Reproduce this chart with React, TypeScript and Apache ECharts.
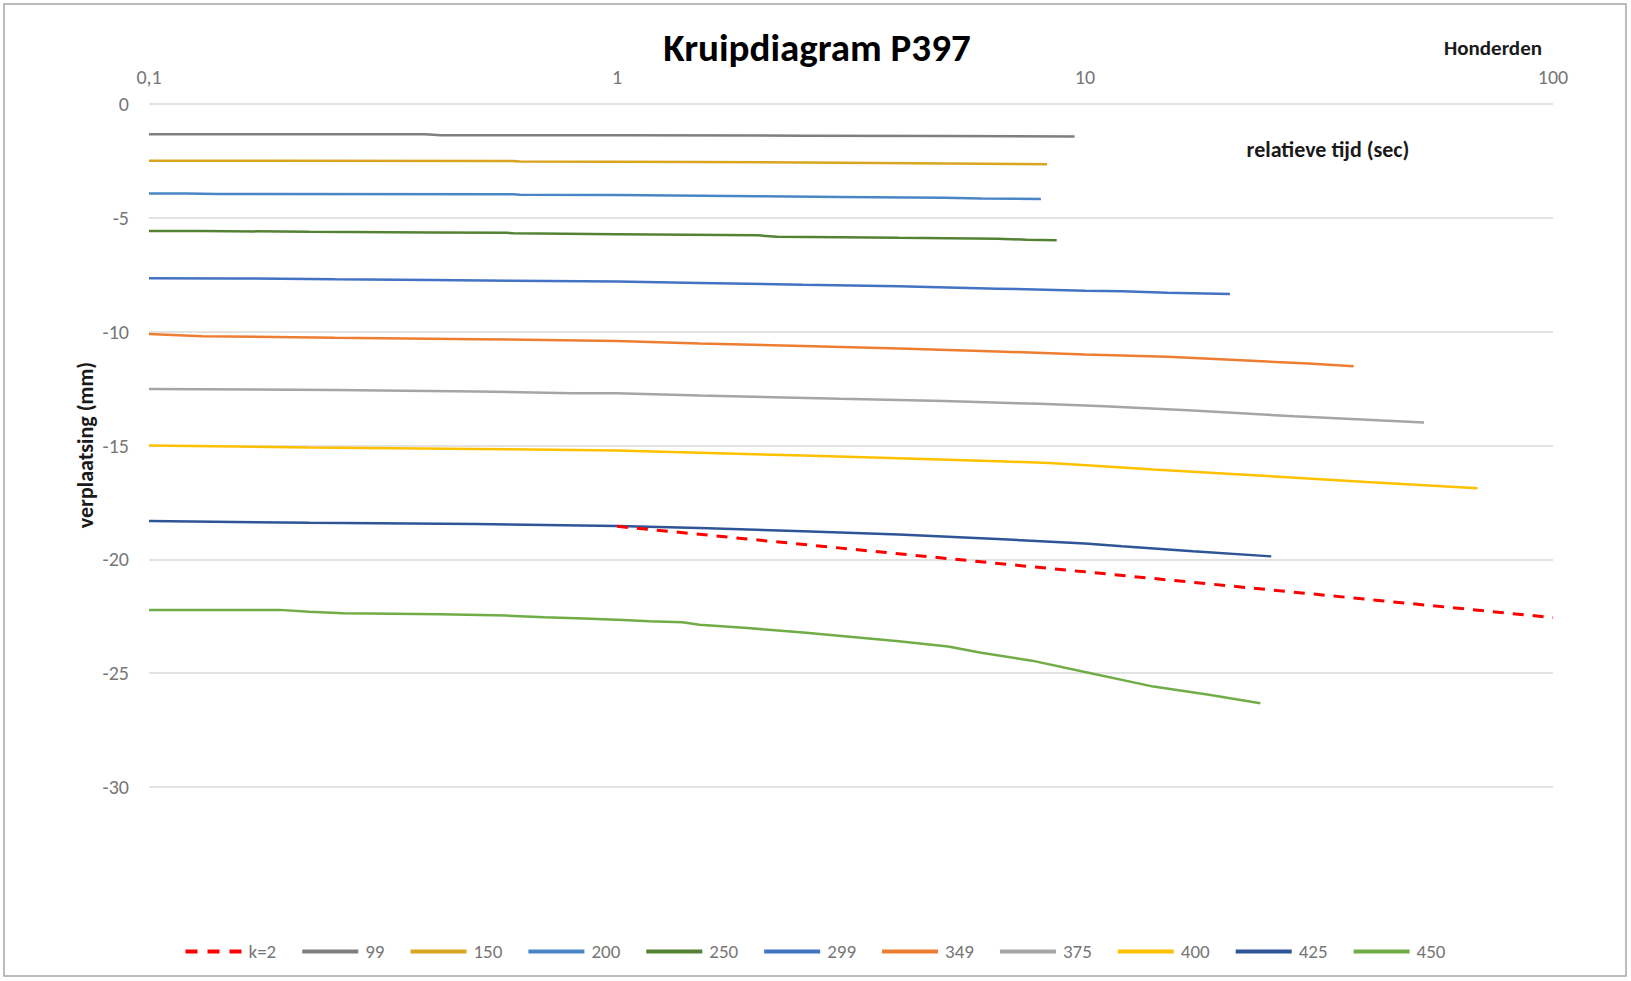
import React, { useEffect, useRef } from "react";
import * as echarts from "echarts";

// ---- data (x in hundreds of seconds, y in mm) ----
const xTicks = [0.1, 1, 10, 100];
const yTicks = [0, -5, -10, -15, -20, -25, -30];

const k2: [number, number][] = [[1, -18.55], [2, -19.15], [5, -19.95], [10, -20.55], [20, -21.15], [50, -21.95], [100, -22.56]];
const s99: [number, number][] = [[0.1, -1.33], [0.39, -1.33], [0.42, -1.37], [1, -1.37], [2.5, -1.39], [5, -1.41], [9.5, -1.43]];
const s150: [number, number][] = [[0.1, -2.49], [0.6, -2.5], [0.62, -2.53], [1.5, -2.55], [3, -2.58], [6, -2.62], [8.3, -2.65]];
const s200: [number, number][] = [[0.1, -3.93], [0.12, -3.93], [0.14, -3.95], [0.6, -3.96], [0.62, -3.99], [1, -4.0], [2, -4.05], [3, -4.08], [5, -4.12], [6, -4.15], [8.05, -4.17]];
const s250: [number, number][] = [[0.1, -5.58], [0.13, -5.58], [0.22, -5.61], [0.4, -5.64], [0.58, -5.66], [0.6, -5.68], [1, -5.72], [2, -5.77], [2.2, -5.83], [3, -5.85], [4, -5.88], [6.5, -5.92], [7.5, -5.96], [8.7, -5.98]];
const s299: [number, number][] = [[0.1, -7.65], [0.15, -7.66], [0.25, -7.7], [0.4, -7.73], [0.6, -7.76], [1, -7.8], [1.5, -7.86], [2.5, -7.94], [4, -8.01], [6.5, -8.11], [10, -8.2], [12, -8.23], [15, -8.29], [20.4, -8.35]];
const s349: [number, number][] = [[0.1, -10.1], [0.13, -10.2], [0.25, -10.27], [0.5, -10.33], [1, -10.41], [1.5, -10.52], [2.5, -10.63], [4, -10.74], [6.5, -10.87], [10, -11.0], [15, -11.1], [20, -11.22], [30, -11.4], [37.5, -11.52]];
const s375: [number, number][] = [[0.1, -12.52], [0.25, -12.56], [0.5, -12.63], [0.8, -12.7], [1, -12.71], [1.5, -12.8], [3, -12.95], [5, -13.05], [8, -13.17], [11, -13.28], [17, -13.46], [28, -13.72], [53, -13.99]];
const s400: [number, number][] = [[0.1, -15.0], [0.22, -15.09], [0.5, -15.15], [1, -15.22], [1.5, -15.32], [2.5, -15.44], [4, -15.56], [6.5, -15.69], [8.4, -15.77], [10.7, -15.9], [14, -16.05], [24, -16.33], [40, -16.6], [69, -16.88]];
const s425: [number, number][] = [[0.1, -18.32], [0.22, -18.39], [0.5, -18.45], [0.7, -18.49], [1, -18.54], [1.5, -18.62], [2.5, -18.77], [4, -18.91], [6.5, -19.11], [10, -19.3], [12, -19.43], [17, -19.65], [25, -19.87]];
const s450: [number, number][] = [[0.1, -22.22], [0.19, -22.22], [0.22, -22.3], [0.26, -22.37], [0.42, -22.41], [0.58, -22.47], [0.7, -22.54], [0.85, -22.6], [1.03, -22.67], [1.17, -22.72], [1.38, -22.76], [1.5, -22.87], [1.9, -23.02], [2.5, -23.21], [3.1, -23.39], [4, -23.6], [5.1, -23.83], [6, -24.1], [7.7, -24.45], [10, -24.95], [14, -25.59], [18.4, -25.95], [23.7, -26.32]];

const seriesNames = ["k=2", "99", "150", "200", "250", "299", "349", "375", "400", "425", "450"];
const seriesData = [k2, s99, s150, s200, s250, s299, s349, s375, s400, s425, s450];
const seriesColors = ["#FF0000", "#7F7F7F", "#D9A420", "#4A86C5", "#548235", "#4472C4", "#ED7D31", "#A5A5A5", "#FFC000", "#2F5597", "#70AD47"];

const FONT = 'Carlito, Calibri, Lato, "Noto Sans", sans-serif';
const DASH_ICON = "path://M0,0h12v4h-12z M22,0h12v4h-12z M44,0h12v4h-12z";
const SOLID_ICON = "path://M0,0h56v4h-56z";

export default function App() {
  const ref = useRef<HTMLDivElement>(null);
  useEffect(() => {
    if (!ref.current) return;
    const chart = echarts.init(ref.current, undefined, { renderer: "svg" });
    const series = seriesNames.map((name, i) => ({
      name,
      type: "line",
      data: seriesData[i],
      showSymbol: false,
      symbol: "none",
      z: i === 0 ? 3 : 2,
      lineStyle: {
        color: seriesColors[i],
        width: i === 0 ? 3 : 2.5,
        type: i === 0 ? [11, 9] : "solid",
      },
      itemStyle: { color: seriesColors[i] },
    }));
    chart.setOption({
      animation: false,
      backgroundColor: "#ffffff",
      textStyle: { fontFamily: FONT },
      grid: { left: 149, right: 78, top: 104, bottom: 194, containLabel: false },
      xAxis: {
        type: "log",
        logBase: 10,
        min: 0.1,
        max: 100,
        position: "top",
        axisLine: { show: false },
        axisTick: { show: false },
        splitLine: { show: false },
        minorTick: { show: false },
        axisLabel: {
          color: "#767676",
          fontSize: 20,
          fontFamily: FONT,
          margin: 17,
          formatter: (v: number) => {
            const t = xTicks.find((x) => Math.abs(x - v) / x < 1e-6);
            return t === undefined ? "" : String(t).replace(".", ",");
          },
        },
      },
      yAxis: {
        type: "value",
        min: -30,
        max: 0,
        interval: 5,
        axisLine: { show: false },
        axisTick: { show: false },
        splitLine: { show: true, lineStyle: { color: "#D9D9D9", width: 1.5 } },
        axisLabel: {
          color: "#767676",
          fontSize: 20,
          fontFamily: FONT,
          margin: 20,
          formatter: (v: number) => (yTicks.includes(v) ? String(v) : ""),
        },
      },
      legend: {
        top: 937,
        left: "center",
        itemWidth: 56,
        itemHeight: 4,
        itemGap: 26,
        data: seriesNames.map((name, i) => ({ name, icon: i === 0 ? DASH_ICON : SOLID_ICON })),
        textStyle: { color: "#767676", fontSize: 19, fontFamily: FONT, padding: [0, 0, 0, 2] },
      },
      graphic: [
        {
          type: "rect",
          shape: { x: 4, y: 4, width: 1622, height: 972 },
          style: { fill: "none", stroke: "#A6A6A6", lineWidth: 1.5 },
          silent: true,
        },
        {
          type: "text",
          x: 817,
          y: 47,
          style: { text: "Kruipdiagram P397", fill: "#000000", font: `bold 39px ${FONT}`, align: "center", verticalAlign: "middle" },
        },
        {
          type: "text",
          x: 1493,
          y: 48,
          style: { text: "Honderden", fill: "#1a1a1a", font: `bold 21px ${FONT}`, align: "center", verticalAlign: "middle" },
        },
        {
          type: "text",
          x: 1328,
          y: 149,
          style: { text: "relatieve tijd (sec)", fill: "#1a1a1a", font: `bold 22px ${FONT}`, align: "center", verticalAlign: "middle" },
        },
        {
          type: "text",
          x: 85,
          y: 445,
          rotation: Math.PI / 2,
          style: { text: "verplaatsing (mm)", fill: "#1a1a1a", font: `bold 22px ${FONT}`, align: "center", verticalAlign: "middle" },
        },
      ],
      series,
    });
    return () => chart.dispose();
  }, []);
  return (
    <div
      ref={ref}
      style={{ position: "absolute", left: 0, top: 0, width: 1631, height: 981, background: "#fff" }}
    />
  );
}
